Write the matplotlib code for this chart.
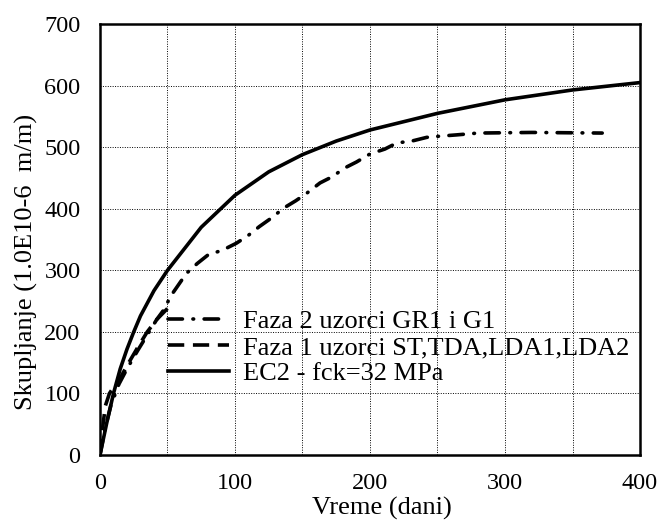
import matplotlib.pyplot as plt
import numpy as np

# shrinkage vs time
t_faza2 = [0, 4, 8, 14, 20, 28, 35, 42, 48, 52, 58, 64, 72, 80, 91, 101, 110, 118, 127, 136,
           145, 153, 163, 172, 181, 190, 200, 211, 220, 231, 242, 252, 264, 280, 320, 372]
s_faza2 = [0, 45, 80, 115, 140, 170, 195, 220, 238, 257, 276, 295, 311, 325, 333, 344, 357, 371, 385, 401,
           413, 425, 442, 452, 466, 476, 489, 497, 507, 510, 516, 518, 520, 523, 524, 523]

t_faza1 = [0, 2, 4, 7, 10, 15, 20, 28, 35, 42, 50]
s_faza1 = [0, 45, 80, 100, 110, 125, 145, 175, 200, 220, 238]

t_ec2 = [0, 5, 10, 15, 20, 25, 30, 40, 50, 60, 75, 100, 125, 150, 175, 200, 250, 300, 350, 400]
s_ec2 = [0, 52, 100, 140, 172, 200, 226, 267, 300, 328, 370, 422, 460, 488, 510, 528, 555, 577, 593, 605]

labels = ["Faza 2 uzorci GR1 i G1", "Faza 1 uzorci ST,TDA,LDA1,LDA2", "EC2 - fck=32 MPa"]

plt.rcParams['font.family'] = ['Liberation Serif', 'DejaVu Serif']

fig = plt.figure(figsize=(6.6, 5.24), dpi=100)
ax = fig.add_axes([0.1515, 0.1317, 0.8182, 0.8223])

lw = 2.6
ax.plot(t_faza2, s_faza2, color='black', lw=lw, dashes=(4.0, 2.9, 0.2, 2.9),
        dash_capstyle='round', label=labels[0])
ax.plot(t_faza1, s_faza1, color='black', lw=lw, dashes=(4.5, 2.4), label=labels[1])
ax.plot(t_ec2, s_ec2, color='black', lw=lw, solid_joinstyle='round', label=labels[2])

ax.set_xlim(0, 400)
ax.set_ylim(0, 700)
ax.set_xticks(np.arange(0, 401, 100))
ax.set_xticks(np.arange(0, 401, 50), minor=True)
ax.set_yticks(np.arange(0, 701, 100))
ax.grid(True, which='both', color='black', linestyle=(0, (1, 1.5)), linewidth=0.7)
ax.tick_params(which='both', length=0, labelsize=17.5)
ax.tick_params(axis='x', pad=13)
ax.tick_params(axis='y', pad=14)
for s in ax.spines.values():
    s.set_linewidth(1.8)

ax.set_xlabel("Vreme (dani)", fontsize=19)
ax.set_ylabel("Skupljanje (1.0E10-6  m/m)", fontsize=19)
ax.xaxis.set_label_coords(0.522, -0.097)
ax.yaxis.set_label_coords(-0.115, 0.448)

ax.legend(loc='center left', bbox_to_anchor=(0.092, 0.25), frameon=False,
          fontsize=19, handlelength=2.3, handletextpad=0.55, labelspacing=0.1,
          borderpad=0.2)

fig.savefig("out.png", dpi=100)
